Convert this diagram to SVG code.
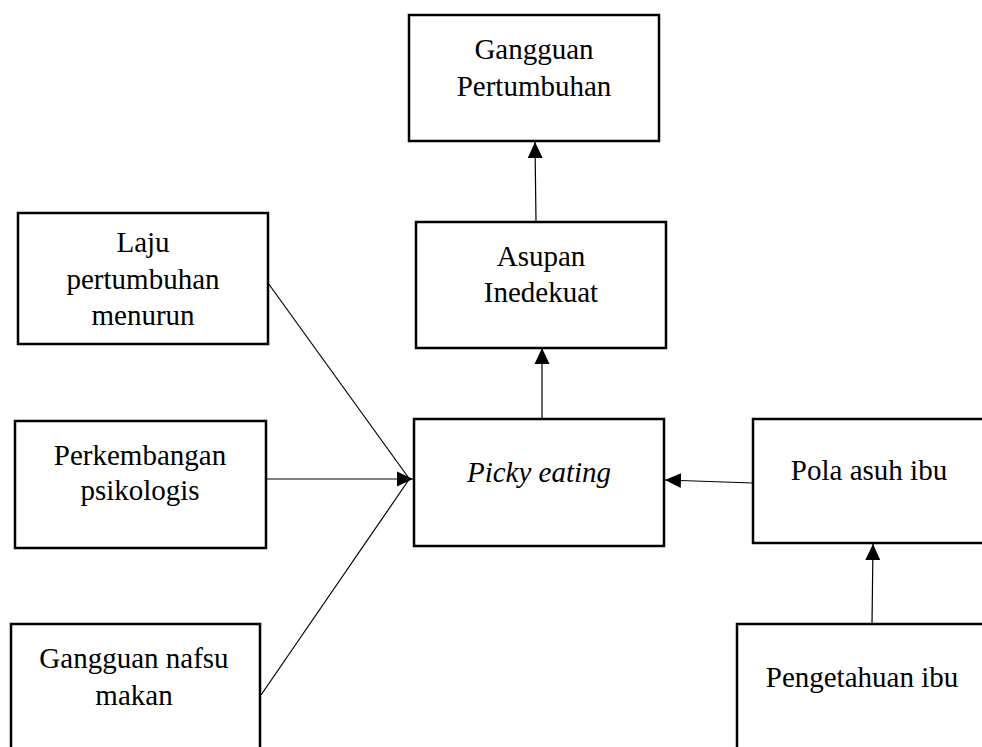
<svg xmlns="http://www.w3.org/2000/svg" width="982" height="747" viewBox="0 0 982 747">
<style>
.box{fill:#fff;stroke:#000;stroke-width:2.5}
.t{font-family:"Times New Roman","Liberation Serif",serif;font-size:29px;fill:#000;text-anchor:middle}
.i{font-style:italic}
.c{stroke:#000;stroke-width:1.2;fill:none}
.a{marker-end:url(#ah)}
</style>
<defs>
<marker id="ah" markerUnits="userSpaceOnUse" markerWidth="17" markerHeight="17" viewBox="0 0 17 17" refX="16" refY="8.5" orient="auto">
<path d="M0,1 L16,8.5 L0,16 Z" fill="#000"/>
</marker>
</defs>
<rect width="982" height="747" fill="#fff"/>
<g id="connectors">
<line class="c a" x1="536" y1="222" x2="535" y2="142"/>
<line class="c a" x1="542" y1="419" x2="542" y2="348"/>
<line class="c" x1="268" y1="283" x2="408" y2="477"/>
<line class="c a" x1="266" y1="479" x2="413" y2="479"/>
<line class="c" x1="261" y1="695" x2="408" y2="481"/>
<line class="c a" x1="753" y1="483" x2="665" y2="480"/>
<line class="c a" x1="872" y1="624" x2="873" y2="544"/>
</g>
<g id="gangguan-pertumbuhan">
<rect class="box" x="409" y="15" width="250" height="126"/>
<text class="t" x="534" y="59">Gangguan</text>
<text class="t" x="534" y="96">Pertumbuhan</text>
</g>
<g id="asupan-inedekuat">
<rect class="box" x="416" y="222" width="250" height="126"/>
<text class="t" x="541" y="266">Asupan</text>
<text class="t" x="541" y="302">Inedekuat</text>
</g>
<g id="laju-pertumbuhan">
<rect class="box" x="18" y="213" width="250" height="131"/>
<text class="t" x="143" y="252">Laju</text>
<text class="t" x="143" y="289">pertumbuhan</text>
<text class="t" x="143" y="325">menurun</text>
</g>
<g id="perkembangan-psikologis">
<rect class="box" x="15" y="421" width="251" height="127"/>
<text class="t" x="140" y="465">Perkembangan</text>
<text class="t" x="140" y="500">psikologis</text>
</g>
<g id="gangguan-nafsu-makan">
<rect class="box" x="11" y="624" width="249" height="140"/>
<text class="t" x="134" y="668">Gangguan nafsu</text>
<text class="t" x="134" y="705">makan</text>
</g>
<g id="picky-eating">
<rect class="box" x="414" y="419" width="250" height="127"/>
<text class="t i" x="539" y="482">Picky eating</text>
</g>
<g id="pola-asuh-ibu">
<rect class="box" x="753" y="419" width="250" height="124"/>
<text class="t" x="869" y="480">Pola asuh ibu</text>
</g>
<g id="pengetahuan-ibu">
<rect class="box" x="737" y="624" width="270" height="140"/>
<text class="t" x="862" y="687">Pengetahuan ibu</text>
</g>
</svg>
